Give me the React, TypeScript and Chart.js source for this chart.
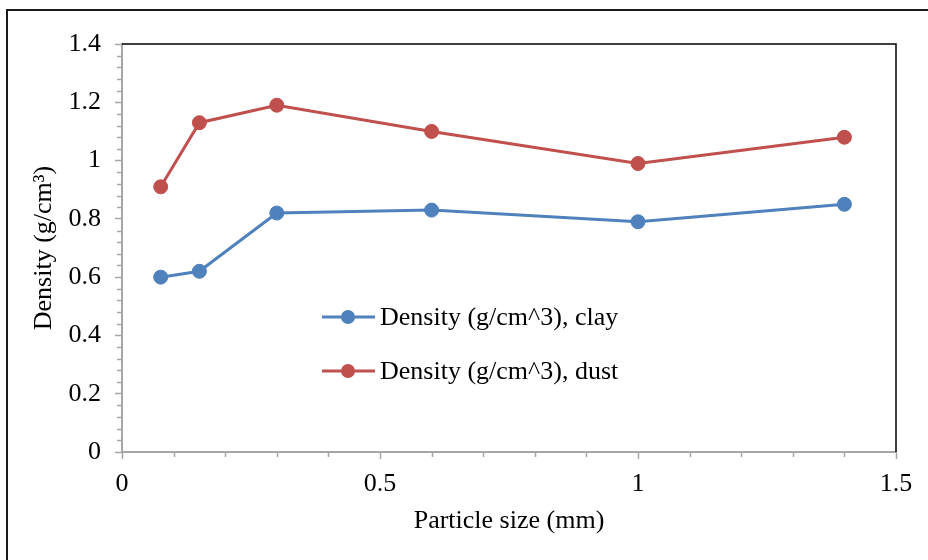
import React, { useEffect, useRef } from "react";
import { Chart, registerables } from "chart.js";

Chart.register(...registerables);

const particleSizes = [0.075, 0.15, 0.3, 0.6, 1.0, 1.4];
const clayDensity = [0.6, 0.62, 0.82, 0.83, 0.79, 0.85];
const dustDensity = [0.91, 1.13, 1.19, 1.1, 0.99, 1.08];
const seriesLabels = ["Density (g/cm^3), clay", "Density (g/cm^3), dust"];
const xTicks = [0, 0.5, 1, 1.5];
const yTicks = [0, 0.2, 0.4, 0.6, 0.8, 1, 1.2, 1.4];
const xMinorStep = 0.1;
const yMinorStep = 0.04;
const xAxisTitle = "Particle size (mm)";
const yAxisTitle = "Density (g/cm³)";

const BLUE = "#4F81BD";
const RED = "#C0504D";
const AXIS_GRAY = "#a6a6a6";
const FONT = "'Liberation Serif', 'Times New Roman', serif";
const FONT_SIZE = 26;

const fmt = (v: number) => String(Number(v.toFixed(2)));

const decorPlugin = {
  id: "decor",
  beforeDraw(chart: any) {
    const { ctx, width, height } = chart;
    ctx.save();
    ctx.fillStyle = "#ffffff";
    ctx.fillRect(0, 0, width, height);
    ctx.strokeStyle = "#1a1a1a";
    ctx.lineWidth = 2;
    ctx.beginPath();
    ctx.moveTo(7, height);
    ctx.lineTo(7, 10);
    ctx.lineTo(width, 10);
    ctx.stroke();
    ctx.restore();
  },
  afterDraw(chart: any) {
    const { ctx, chartArea } = chart;
    const xs = chart.scales.x;
    const ys = chart.scales.y;
    ctx.save();
    // minor ticks
    ctx.strokeStyle = AXIS_GRAY;
    ctx.lineWidth = 1.5;
    const xMax = xTicks[xTicks.length - 1];
    const yMax = yTicks[yTicks.length - 1];
    const nx = Math.round(xMax / xMinorStep);
    for (let i = 1; i < nx; i++) {
      const v = i * xMinorStep;
      if (xTicks.some((t) => Math.abs(t - v) < 1e-9)) continue;
      const px = Math.round(xs.getPixelForValue(v)) + 0.5;
      ctx.beginPath();
      ctx.moveTo(px, chartArea.bottom);
      ctx.lineTo(px, chartArea.bottom + 5);
      ctx.stroke();
    }
    const ny = Math.round(yMax / yMinorStep);
    for (let i = 1; i < ny; i++) {
      const v = i * yMinorStep;
      if (yTicks.some((t) => Math.abs(t - v) < 1e-9)) continue;
      const py = Math.round(ys.getPixelForValue(v)) + 0.5;
      ctx.beginPath();
      ctx.moveTo(chartArea.left, py);
      ctx.lineTo(chartArea.left - 5, py);
      ctx.stroke();
    }
    // top & right border of plot area
    ctx.strokeStyle = "#000000";
    ctx.lineWidth = 1.5;
    ctx.beginPath();
    ctx.moveTo(chartArea.left, chartArea.top);
    ctx.lineTo(chartArea.right, chartArea.top);
    ctx.lineTo(chartArea.right, chartArea.bottom);
    ctx.stroke();

    // legend inside plot
    const colors = [BLUE, RED];
    const lx = chartArea.left + 200;
    const ly = chartArea.top + 273;
    ctx.font = `${FONT_SIZE}px ${FONT}`;
    ctx.textBaseline = "middle";
    ctx.textAlign = "left";
    seriesLabels.forEach((label, i) => {
      const y = ly + i * 54;
      ctx.strokeStyle = colors[i];
      ctx.lineWidth = 3;
      ctx.beginPath();
      ctx.moveTo(lx, y);
      ctx.lineTo(lx + 53, y);
      ctx.stroke();
      ctx.fillStyle = colors[i];
      ctx.beginPath();
      ctx.arc(lx + 26, y, 7, 0, Math.PI * 2);
      ctx.fill();
      ctx.fillStyle = "#000000";
      ctx.fillText(label, lx + 58, y + 1);
    });
    ctx.restore();
  },
};

export default function App() {
  const canvasRef = useRef<HTMLCanvasElement | null>(null);

  useEffect(() => {
    if (!canvasRef.current) return;
    const mk = (data: number[]) => data.map((y, i) => ({ x: particleSizes[i], y }));
    const chart = new Chart(canvasRef.current, {
      type: "line",
      data: {
        datasets: [
          {
            label: seriesLabels[0],
            data: mk(clayDensity),
            borderColor: BLUE,
            backgroundColor: BLUE,
            borderWidth: 3,
            pointRadius: 7,
            pointBackgroundColor: BLUE,
            pointBorderColor: BLUE,
            pointBorderWidth: 1,
            tension: 0,
          },
          {
            label: seriesLabels[1],
            data: mk(dustDensity),
            borderColor: RED,
            backgroundColor: RED,
            borderWidth: 3,
            pointRadius: 7,
            pointBackgroundColor: RED,
            pointBorderColor: RED,
            pointBorderWidth: 1,
            tension: 0,
          },
        ],
      },
      options: {
        responsive: false,
        animation: false,
        devicePixelRatio: 1,
        layout: { padding: { left: 0, top: 44, right: 32, bottom: 0 } },
        plugins: {
          legend: { display: false },
          tooltip: { enabled: false },
        },
        scales: {
          x: {
            type: "linear",
            min: xTicks[0],
            max: xTicks[xTicks.length - 1],
            afterBuildTicks: (scale: any) => {
              scale.ticks = xTicks.map((v) => ({ value: v }));
            },
            afterFit: (scale: any) => {
              scale.height = 108;
            },
            grid: {
              drawOnChartArea: false,
              drawTicks: true,
              tickLength: 7,
              tickColor: AXIS_GRAY,
              tickWidth: 1.5,
            },
            border: { display: true, color: AXIS_GRAY, width: 2 },
            ticks: {
              autoSkip: false,
              maxRotation: 0,
              padding: 10,
              color: "#000",
              font: { family: FONT, size: FONT_SIZE },
              callback: (v: any) => fmt(Number(v)),
            },
            title: {
              display: true,
              text: xAxisTitle,
              color: "#000",
              font: { family: FONT, size: FONT_SIZE },
              padding: { top: 0, bottom: 23 },
            },
          },
          y: {
            type: "linear",
            min: yTicks[0],
            max: yTicks[yTicks.length - 1],
            afterBuildTicks: (scale: any) => {
              scale.ticks = yTicks.map((v) => ({ value: v }));
            },
            afterFit: (scale: any) => {
              scale.width = 122;
            },
            grid: {
              drawOnChartArea: false,
              drawTicks: true,
              tickLength: 7,
              tickColor: AXIS_GRAY,
              tickWidth: 1.5,
            },
            border: { display: true, color: AXIS_GRAY, width: 2 },
            ticks: {
              autoSkip: false,
              padding: 14,
              color: "#000",
              font: { family: FONT, size: FONT_SIZE },
              callback: (v: any) => fmt(Number(v)),
            },
            title: {
              display: true,
              text: yAxisTitle,
              color: "#000",
              font: { family: FONT, size: FONT_SIZE },
              padding: { top: 29, bottom: 0 },
            },
          },
        },
      },
      plugins: [decorPlugin],
    } as any);
    return () => chart.destroy();
  }, []);

  return (
    <div style={{ position: "absolute", left: 0, top: 0, width: 928, height: 560 }}>
      <canvas ref={canvasRef} width={928} height={560} style={{ display: "block" }} />
    </div>
  );
}
